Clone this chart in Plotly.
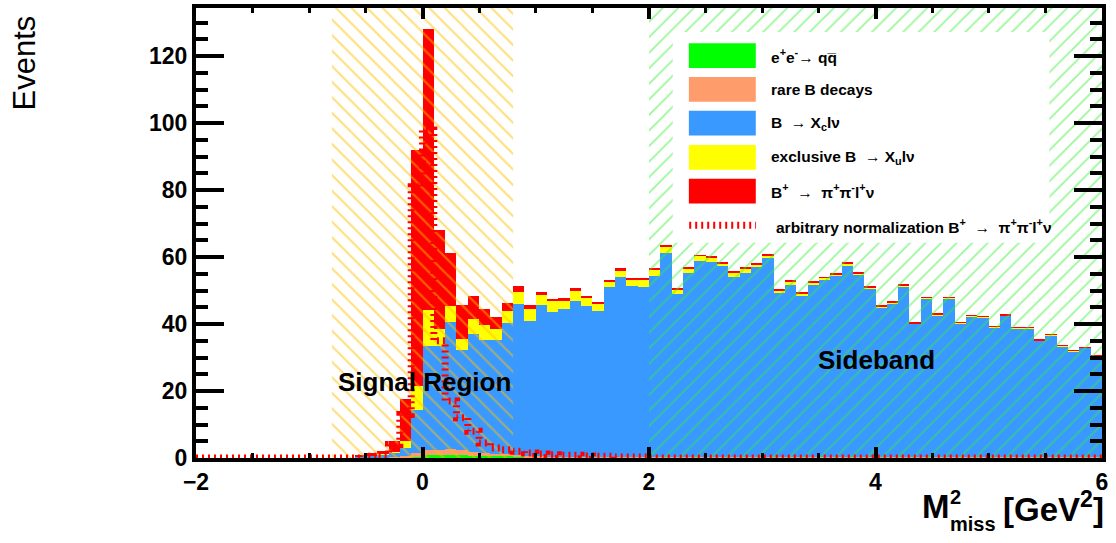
import plotly.graph_objects as go

# Histogram binning in M_miss^2 [GeV^2]
X_MIN, X_MAX, BIN_W, N_BINS = -2.0, 6.0, 0.1, 80
Y_MAX = 134.4

# Stacked background / signal components (events per bin)
qq_continuum = [
    0, 0, 0, 0, 0, 0, 0, 0, 0, 0,
    0, 0, 0, 0, 0, 0, 0, 0, 0, 0.3,
    1.0, 1.0, 0.8, 0.8, 0.6, 0.6, 0.5, 0.5, 0.3, 0.2,
    0.2, 0.2, 0.2, 0.2, 0.2, 0.2, 0.2, 0.2, 0.2, 0.2,
    0.2, 0.2, 0.2, 0.2, 0.2, 0.2, 0.2, 0.2, 0.2, 0.2,
    0.2, 0.2, 0.2, 0.2, 0.2, 0.2, 0.2, 0.2, 0.2, 0.2,
    0.2, 0.2, 0.2, 0.2, 0.2, 0.2, 0.2, 0.2, 0.2, 0.2,
    0.2, 0.2, 0.2, 0.2, 0.2, 0.2, 0.2, 0.2, 0.2, 0.2,
]
rare_b = [
    0, 0, 0, 0, 0, 0, 0, 0, 0, 0,
    0, 0, 0, 0, 0, 0, 0, 0.2, 0.5, 1.2,
    1.5, 1.5, 1.8, 1.5, 1.2, 1.0, 0.8, 0.6, 0.5, 0.4,
    0.3, 0.2, 0.2, 0.2, 0.2, 0.2, 0.2, 0.2, 0.2, 0.2,
    0.2, 0.2, 0.2, 0.2, 0.2, 0.2, 0.2, 0.2, 0.2, 0.2,
    0.2, 0.2, 0.2, 0.2, 0.2, 0.2, 0.2, 0.2, 0.2, 0.2,
    0.2, 0.2, 0.2, 0.2, 0.2, 0.2, 0.2, 0.2, 0.2, 0.2,
    0.2, 0.2, 0.2, 0.2, 0.2, 0.2, 0.2, 0.2, 0.2, 0.2,
]
b_to_xc = [
    0, 0, 0, 0, 0, 0, 0, 0, 0, 0,
    0, 0, 0, 0, 0.3, 0.5, 1.0, 1.3, 2.5, 12.7,
    31.1, 31.1, 38.0, 29.9, 35.2, 33.5, 33.8, 39.1, 45.2, 40.3,
    45.3, 43.3, 44.0, 46.6, 44.9, 43.4, 50.6, 53.8, 51.1, 50.8,
    54.0, 60.9, 48.6, 55.0, 58.5, 58.2, 56.8, 53.8, 55.0, 56.5,
    59.2, 48.9, 51.2, 47.9, 51.4, 53.0, 54.0, 57.2, 54.4, 50.1,
    44.6, 45.6, 50.9, 39.7, 47.2, 42.3, 47.3, 39.9, 41.8, 41.6,
    38.7, 42.2, 38.4, 38.4, 34.7, 36.2, 33.0, 31.5, 32.5, 30.0,
]
b_to_xu = [
    0, 0, 0, 0, 0, 0, 0, 0, 0, 0,
    0, 0, 0, 0, 0, 0, 0.2, 0.3, 2.0, 7.4,
    10.6, 5.0, 4.9, 3.4, 4.5, 4.6, 3.5, 3.6, 3.5, 3.6,
    3.0, 3.1, 2.6, 3.0, 2.5, 2.3, 1.6, 1.8, 1.7, 2.2,
    1.8, 2.0, 1.4, 1.3, 1.5, 1.3, 0.9, 1.2, 1.2, 1.0,
    0.9, 0.7, 1.1, 0.7, 0.7, 0.4, 0.5, 0.5, 0.4, 0.5,
    0.3, 0.5, 0.2, 0.2, 0.3, 0.3, 0.2, 0.2, 0.3, 0.3,
    0.1, 0.1, 0.2, 0.2, 0.1, 0.2, 0.1, 0.2, 0.1, 0.2,
]
signal = [
    0, 0, 0, 0, 0, 0, 0, 0, 0, 0,
    0, 0, 0, 0, 0.3, 1.0, 1.0, 3.2, 12.6, 70.4,
    83.8, 29.4, 15.8, 10.2, 7.0, 4.7, 3.4, 2.4, 2.0, 1.3,
    0.9, 0.7, 0.7, 0.7, 0.5, 0.4, 0.3, 0.6, 0.4, 0.2,
    0.4, 0.2, 0.3, 0.2, 0.1, 0.2, 0.3, 0.2, 0.2, 0.2,
    0.2, 0.3, 0.2, 0.3, 0.2, 0.2, 0.2, 0.3, 0.2, 0.2,
    0.2, 0.3, 0.2, 0.1, 0.1, 0.2, 0.1, 0.1, 0.1, 0.1,
    0.1, 0.1, 0.1, 0.1, 0.1, 0.1, 0.1, 0.1, 0.1, 0.1,
]
# Signal shape with arbitrary normalization (dashed outline)
signal_shape = [
    0, 0, 0, 0, 0, 0, 0, 0, 0, 0,
    0, 0, 0, 0, 0, 0.5, 1.0, 4.0, 13.0, 81.0,
    98.0, 35.0, 17.0, 12.0, 8.0, 4.5, 3.0, 2.5, 2.0, 1.5,
    1.2, 1.0, 0.8, 0.8, 0.6, 0.5, 0.5, 0.3, 0.3, 0.3,
    0, 0, 0, 0, 0, 0, 0, 0, 0, 0,
    0, 0, 0, 0, 0, 0, 0, 0, 0, 0,
    0, 0, 0, 0, 0, 0, 0, 0, 0, 0,
    0, 0, 0, 0, 0, 0, 0, 0, 0, 0,
]

SIGNAL_WINDOW = (-0.8, 0.8)
SIDEBAND_WINDOW = (2.0, 6.0)

centers = [round(X_MIN + BIN_W * (i + 0.5), 4) for i in range(N_BINS)]
edges = [round(X_MIN + BIN_W * i, 4) for i in range(N_BINS + 1)]

C_QQ, C_RARE, C_XC, C_XU, C_SIG = "#00FF00", "#FF9C6B", "#3A99FF", "#FFFF00", "#FF0000"
C_SIGHATCH, C_SBHATCH = "#FFBF00", "#33F033"

FONT = "Liberation Sans, Arial, Helvetica, sans-serif"

fig = go.Figure()

for vals, col in [(qq_continuum, C_QQ), (rare_b, C_RARE), (b_to_xc, C_XC),
                  (b_to_xu, C_XU), (signal, C_SIG)]:
    fig.add_trace(go.Bar(x=centers, y=vals, width=BIN_W,
                         marker=dict(color=col, line_width=0),
                         showlegend=False, hoverinfo="skip"))


def hatched_band(lo, hi, shape, color, solidity):
    fig.add_trace(go.Scatter(
        x=[lo, hi, hi, lo, lo], y=[0, 0, Y_MAX, Y_MAX, 0],
        mode="none", fill="toself", fillcolor="rgba(0,0,0,0)",
        fillpattern=dict(shape=shape, fgcolor=color, bgcolor="rgba(0,0,0,0)",
                         size=11, solidity=solidity),
        showlegend=False, hoverinfo="skip"))


hatched_band(*SIGNAL_WINDOW, "\\", C_SIGHATCH, 0.2)
hatched_band(*SIDEBAND_WINDOW, "/", C_SBHATCH, 0.16)

fig.add_trace(go.Scatter(
    x=edges, y=signal_shape + [signal_shape[-1]], mode="lines",
    line=dict(shape="hv", color=C_SIG, width=7, dash="2px,4px"),
    showlegend=False, hoverinfo="skip"))

# ---- legend box (drawn in data coordinates of the upper-right corner) ----
shapes = [dict(type="rect", xref="x", yref="y", x0=2.21, x1=5.535, y0=64.3, y1=127.2,
               fillcolor="white", line_width=0, layer="above")]
leg_rows = [
    (C_QQ, "e<sup>+</sup>e<sup>-</sup>\u2192 qq\u0305", 120.2),
    (C_RARE, "rare B decays", 110.1),
    (C_XC, "B  \u2192 X<sub>c</sub>l\u03bd", 100.0),
    (C_XU, "exclusive B  \u2192 X<sub>u</sub>l\u03bd", 89.8),
    (C_SIG, "B<sup>+</sup>  \u2192  \u03c0<sup>+</sup>\u03c0<sup>-</sup>l<sup>+</sup>\u03bd", 79.7),
]
annotations = []
for col, label, yc in leg_rows:
    shapes.append(dict(type="rect", xref="x", yref="y", x0=2.352, x1=2.943,
                       y0=yc - 3.7, y1=yc + 3.7, fillcolor=col, line_width=0, layer="above"))
    annotations.append(dict(x=3.063, y=yc, xref="x", yref="y", text=label,
                            showarrow=False, xanchor="left", yanchor="middle",
                            font=dict(family=FONT, size=15.5, color="black", weight="bold")))
shapes.append(dict(type="line", xref="x", yref="y", x0=2.355, x1=2.945, y0=69.5, y1=69.5,
                   line=dict(color=C_SIG, width=7, dash="2px,4px"), layer="above"))
annotations.append(dict(x=3.10, y=69.4, xref="x", yref="y",
                        text="arbitrary normalization B<sup>+</sup>  \u2192  \u03c0<sup>+</sup>\u03c0<sup>-</sup>l<sup>+</sup>\u03bd",
                        showarrow=False, xanchor="left", yanchor="middle",
                        font=dict(family=FONT, size=15.5, color="black", weight="bold")))

# ---- region labels ----
annotations.append(dict(x=0.015, y=22.8, xref="x", yref="y", text="Signal Region",
                        showarrow=False, font=dict(family=FONT, size=26, color="black", weight="bold")))
annotations.append(dict(x=4.01, y=29.3, xref="x", yref="y", text="Sideband",
                        showarrow=False, font=dict(family=FONT, size=26, color="black", weight="bold")))

# ---- axis titles, placed in pixel terms of the frame ----
L, R, T, B = 196, 1102, 4, 458


def px(xp):
    return (xp - L) / (R - L)


def py(yp):
    return (B - yp) / (B - T)


annotations.append(dict(x=px(24), y=py(10), xref="paper", yref="paper", text="Events",
                        textangle=-90, showarrow=False, xanchor="center", yanchor="top",
                        font=dict(family=FONT, size=31, color="black")))
title_font = dict(family=FONT, color="black", weight="bold")
annotations += [
    dict(x=px(920), y=py(507), xref="paper", yref="paper", text="M", showarrow=False,
         xanchor="left", yanchor="middle", font=dict(size=33, **title_font)),
    dict(x=px(948), y=py(497), xref="paper", yref="paper", text="2", showarrow=False,
         xanchor="left", yanchor="middle", font=dict(size=20, **title_font)),
    dict(x=px(948), y=py(525), xref="paper", yref="paper", text="miss", showarrow=False,
         xanchor="left", yanchor="middle", font=dict(size=20, **title_font)),
    dict(x=px(1106), y=py(507), xref="paper", yref="paper", text="[GeV<sup>2</sup>]",
         showarrow=False, xanchor="right", yanchor="middle", font=dict(size=33, **title_font)),
]

tick_font = dict(family=FONT, size=23, color="black", weight="bold")

fig.update_layout(
    width=1116, height=543,
    margin=dict(l=L, r=1116 - R, t=T, b=543 - B),
    paper_bgcolor="white", plot_bgcolor="white",
    barmode="stack", bargap=0,
    shapes=shapes, annotations=annotations,
    xaxis=dict(range=[X_MIN, X_MAX], tickvals=[-2, 0, 2, 4, 6], ticks="inside",
               ticklen=11, tickwidth=4, tickcolor="black", showline=True, linewidth=4,
               linecolor="black", mirror="ticks", showgrid=False, zeroline=False,
               tickfont=tick_font,
               minor=dict(dtick=0.5, tick0=0, ticks="inside", ticklen=5, tickwidth=3,
                          tickcolor="black", showgrid=False)),
    yaxis=dict(range=[0, Y_MAX], dtick=20, tick0=0, ticks="inside", ticklen=28,
               tickwidth=4, tickcolor="black", showline=True, linewidth=4,
               linecolor="black", mirror="ticks", showgrid=False, zeroline=False,
               tickfont=tick_font,
               minor=dict(dtick=5, tick0=0, ticks="inside", ticklen=12, tickwidth=4,
                          tickcolor="black", showgrid=False)),
)

fig.write_html("out.html")
